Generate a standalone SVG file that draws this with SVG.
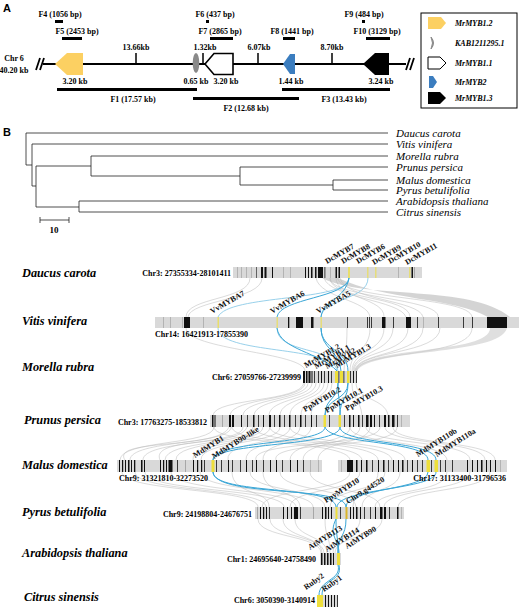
<svg xmlns="http://www.w3.org/2000/svg" width="520" height="607" viewBox="0 0 520 607">
<style>
.pl{font-family:"Liberation Sans",Arial,sans-serif;font-weight:bold;font-size:11px;fill:#000}
.t{font-family:"Liberation Serif","Times New Roman",serif;font-weight:bold;font-size:8px;fill:#000}
.tm{font-family:"Liberation Serif","Times New Roman",serif;font-weight:bold;font-size:8px;fill:#000;text-anchor:middle}
.li{font-family:"Liberation Serif","Times New Roman",serif;font-weight:bold;font-style:italic;font-size:8px;fill:#000}
.sp{font-family:"Liberation Serif","Times New Roman",serif;font-style:italic;font-size:11px;fill:#000}
.spb{font-family:"Liberation Serif","Times New Roman",serif;font-style:italic;font-weight:bold;font-size:12.3px;fill:#000}
.ch{font-family:"Liberation Serif","Times New Roman",serif;font-weight:bold;font-size:8px;fill:#000}
.gl{font-family:"Liberation Serif","Times New Roman",serif;font-weight:bold;font-size:8px;fill:#111}
.tr{stroke:#222;stroke-width:0.8;fill:none}
.bar{fill:#d9d9d9}
.k{fill:#111}
.y{fill:#eedf3c}
.g{fill:#9a9a9a}
.gc{fill:none;stroke:#b8b8b8;stroke-width:0.6;opacity:0.85}
.bc{fill:none;stroke:#3aa6d6;stroke-width:1}
.lb{fill:none;stroke:#8ccbe8;stroke-width:0.9}
.frag{fill:#000}
</style>

<!-- Panel A -->
<g id="panelA">
<text class="pl" x="3" y="12">A</text>
<g id="fragments">
<text class="tm" x="60" y="17">F4 (1056 bp)</text>
<rect class="frag" x="55" y="20" width="8" height="3"/>
<text class="tm" x="77" y="34">F5 (2453 bp)</text>
<rect class="frag" x="62" y="37" width="20" height="3"/>
<text class="tm" x="215" y="17">F6  (437 bp)</text>
<rect class="frag" x="206" y="20" width="3" height="3"/>
<text class="tm" x="220" y="34">F7 (2865 bp)</text>
<rect class="frag" x="210" y="37" width="23" height="3"/>
<text class="tm" x="292" y="34">F8 (1441 bp)</text>
<rect class="frag" x="283" y="37" width="12" height="3"/>
<text class="tm" x="364" y="17">F9 (484 bp)</text>
<rect class="frag" x="362" y="20" width="3" height="3"/>
<text class="tm" x="377" y="34">F10 (3129 bp)</text>
<rect class="frag" x="366" y="37" width="24" height="3"/>
</g>
<g id="chromosome6">
<text class="tm" x="14" y="61">Chr 6</text>
<text class="tm" x="14" y="73">40.20 kb</text>
<line x1="43" y1="64" x2="406" y2="64" stroke="#000" stroke-width="2"/>
<path d="M36 70 L40 58 M40 70 L44 58" stroke="#000" stroke-width="1.8"/>
<path d="M406 70 L410 58 M410 70 L414 58" stroke="#000" stroke-width="1.8"/>
<g stroke="#000" stroke-width="1.5">
<line x1="136" y1="53" x2="136" y2="64"/>
<line x1="203" y1="53" x2="203" y2="64"/>
<line x1="258" y1="53" x2="258" y2="64"/>
<line x1="332" y1="53" x2="332" y2="64"/>
</g>
<text class="tm" x="136" y="50">13.66kb</text>
<text class="tm" x="205" y="50">1.32kb</text>
<text class="tm" x="259" y="50">6.07kb</text>
<text class="tm" x="332" y="50">8.70kb</text>
</g>
<g id="gene-MrMYB1.2"><polygon points="55,64 67,53 83,53 83,75 67,75" fill="#fcd062"/></g>
<g id="gene-KAB1211295.1"><ellipse cx="196" cy="63" rx="3.3" ry="10" fill="#8a8a8a"/></g>
<g id="gene-MrMYB1.1"><polygon points="205,64 214,53.5 233,53.5 233,74.5 214,74.5" fill="#fff" stroke="#000" stroke-width="1.6"/></g>
<g id="gene-MrMYB2"><polygon points="283,64 290,54 295,54 295,74 290,74" fill="#3b7dbf"/></g>
<g id="gene-MrMYB1.3"><polygon points="363,64 375,53 389,53 389,75 375,75" fill="#000"/></g>
<g id="sizes">
<text class="tm" x="75" y="84">3.20 kb</text>
<text class="tm" x="196" y="84">0.65 kb</text>
<text class="tm" x="226" y="84">3.20 kb</text>
<text class="tm" x="291" y="84">1.44 kb</text>
<text class="tm" x="381" y="84">3.24 kb</text>
</g>
<g id="bigFragments">
<rect class="frag" x="57" y="88" width="140" height="3"/>
<text class="tm" x="133" y="102">F1 (17.57 kb)</text>
<rect class="frag" x="193" y="97" width="106" height="3"/>
<text class="tm" x="246" y="111">F2 (12.68 kb)</text>
<rect class="frag" x="282" y="88" width="108" height="3"/>
<text class="tm" x="344" y="102">F3 (13.43 kb)</text>
</g>
<g id="legend">
<rect x="421" y="13" width="96" height="95" fill="#fff" stroke="#000" stroke-width="1"/>
<polygon points="428,17 441,17 446,23 441,29 428,29" fill="#fcd062"/>
<text class="li" x="455" y="26">MrMYB1.2</text>
<path d="M431 37 Q436 43 431 49 Q434 43 431 37 Z" fill="#888" stroke="#888" stroke-width="1"/>
<text class="li" x="455" y="46">KAB1211295.1</text>
<polygon points="428,57 440,57 446,63 440,69 428,69" fill="#fff" stroke="#000" stroke-width="1"/>
<text class="li" x="455" y="66">MrMYB1.1</text>
<polygon points="429,76 433,76 437,82 433,88 429,88" fill="#3b7dbf"/>
<text class="li" x="455" y="85">MrMYB2</text>
<polygon points="428,92 440,92 446,98 440,104 428,104" fill="#000"/>
<text class="li" x="455" y="101">MrMYB1.3</text>
</g>
</g>

<!-- Panel B tree -->
<g id="tree">
<text class="pl" x="3" y="136">B</text>
<path class="tr" d="M26 133 V165 M26 133 H388 M26 165 H32 M32 144 V186 M32 144 H388 M32 186 H36 M36 166 V207 M36 166 H91 M36 207 H79 M91 156 V176 M91 156 H388 M91 176 H240 M240 167 V185 M240 167 H388 M240 185 H333 M333 180 V190 M333 180 H388 M333 190 H388 M79 201 V212 M79 201 H388 M79 212 H388"/>
<text class="sp" x="396" y="137">Daucus carota</text>
<text class="sp" x="396" y="148">Vitis vinifera</text>
<text class="sp" x="396" y="159.5">Morella rubra</text>
<text class="sp" x="396" y="171">Prunus persica</text>
<text class="sp" x="396" y="183.5">Malus domestica</text>
<text class="sp" x="396" y="194">Pyrus betulifolia</text>
<text class="sp" x="396" y="205">Arabidopsis thaliana</text>
<text class="sp" x="396" y="216">Citrus sinensis</text>
<path class="tr" d="M40 220 H69 M40 217 V223 M69 217 V223"/>
<text class="tm" x="54" y="233" style="font-size:9px">10</text>
</g>

<!-- Connectors -->
<g id="connectors">
<path d="M322 278 C365 300 470 284 510 317 L488 317 C455 298 385 300 338 278 Z" fill="#c9c9c9" opacity="0.8"/>
<path class="gc" d="M250 278 C250 300 186 297 186 317 M262 278 C262 300 190 300 188 317 M330 278 C330 300 410 296 410 317 M336 278 C336 298 385 298 384 317 M338 278 C338 300 470 296 472 317 M330 278 C330 298 440 298 438 317 M324 278 C330 298 400 300 406 317 M340 278 C345 300 420 300 423 317 M316 278 C320 298 368 300 370 317"/>
<path class="gc" d="M347 328 C347 350 345 350 344 371 M370 328 C370 352 350 350 350 371 M384 328 C384 352 352 350 352 371 M408 328 C408 355 354 350 354 371 M440 328 C440 355 356 350 356 371 M472 328 C472 358 357 350 357 371 M186 328 C186 350 305 352 305 371 M393 328 C393 352 353 352 353 371 M423 328 C423 355 355 352 355 371"/>
<path d="M490 328 C490 355 365 345 354 371 L357 371 C370 348 500 356 507 328 Z" fill="#c9c9c9" opacity="0.6"/>
<path class="gc" d="M305 383 C305 400 232 398 230 415 M308 383 C308 400 245 398 243 415 M312 383 C312 400 256 398 254 415 M316 383 C316 400 270 398 269 415 M320 383 C320 400 281 398 280 415 M324 383 C324 400 290 398 290 415 M328 383 C328 400 301 398 301 415 M332 383 C332 400 311 398 311 415 M352 383 C352 400 360 398 362 415 M356 383 C356 400 385 398 388 415 M304 383 C300 402 216 398 213 415"/>
<path class="gc" d="M214 427 C214 445 120 440 120 460 M231 427 C231 445 130 440 130 460 M243 427 C243 445 143 440 143 460 M253 427 C253 445 165 440 165 460 M263 427 C263 445 175 440 176 460 M270 427 C270 445 190 440 193 460 M280 427 C280 445 200 440 201 460 M290 427 C290 445 225 440 228 460 M300 427 C300 445 245 440 246 460 M311 427 C311 445 262 440 263 460 M350 427 C350 445 290 440 290 460 M360 427 C360 445 303 440 303 460 M370 427 C370 445 318 440 318 460 M214 427 C214 445 348 440 350 460 M232 427 C232 445 360 440 362 460 M254 427 C254 445 378 440 378 460 M270 427 C270 445 390 440 392 460 M290 427 C290 445 405 440 405 460 M350 427 C350 445 445 440 447 460 M366 427 C366 445 470 440 470 460 M385 427 C385 445 485 440 485 460 M393 427 C393 445 495 440 495 460 M229 427 C220 450 110 438 125 460 M247 427 C240 448 150 436 160 460 M380 427 C380 448 250 440 256 460 M397 427 C397 450 270 440 276 460"/>
<path class="gc" d="M122 472 C122 492 258 488 258 507 M135 472 C135 492 266 488 266 507 M145 472 C145 492 284 488 284 507 M171 472 C171 492 296 488 296 507 M200 472 C200 492 313 488 313 507 M250 472 C250 492 325 488 325 507 M280 472 C280 492 356 488 356 507 M310 472 C310 492 380 488 380 507 M350 472 C350 492 262 488 262 507 M360 472 C360 492 290 488 290 507 M385 472 C385 492 330 488 330 507 M400 472 C400 492 362 488 362 507 M470 472 C470 492 384 488 384 507 M490 472 C490 492 398 488 398 507 M232 472 C232 495 270 490 269 507 M263 472 C263 495 300 490 300 507 M378 472 C378 492 353 490 353 507 M447 472 C447 495 375 488 375 507"/>
<path class="gc" d="M258 519 C258 538 321 535 321 553 M270 519 C270 538 324 535 324 553 M295 519 C295 538 327 535 327 553 M325 519 C325 538 330 535 330 553 M360 519 C360 538 333 535 333 553 M382 519 C382 538 335 535 335 553 M283 519 C283 538 322 535 322 553"/>
<path class="lb" d="M368 278 C368 300 323 298 321 317 M349 278 C349 302 228 294 218 317"/>
<path class="bc" d="M349 278 C347 298 280 298 277 317 M349 278 C345 300 323 300 321 317"/>
<path class="lb" d="M218 328 C218 355 335 345 337 371 M277 328 C277 355 336 345 338 371"/>
<path class="bc" d="M321 328 C321 350 340 350 341 371 M321 328 C321 350 348 350 348 371 M277 328 C280 350 320 352 337 371"/>
<path class="bc" d="M338 383 C338 400 325 398 325 415 M348 383 C348 400 326 398 325 415 M338 383 C338 400 340 398 340 415 M348 383 C348 400 340 398 340 415"/>
<path class="bc" d="M325 427 C325 445 213 440 213 460 M340 427 C340 447 215 442 213 460 M325 427 C330 445 428 440 428 460 M340 427 C340 445 436 440 436 460"/>
<path class="bc" d="M213 472 C213 495 336 485 336 507 M213 472 C215 498 346 485 346 507 M428 472 C428 490 346 488 346 507 M436 472 C436 490 338 488 337 507"/>
<path class="bc" d="M336 519 C336 537 338 535 338 553 M346 519 C346 537 338 535 338 553 M336 519 C328 535 339 540 339 553"/>
<path class="bc" d="M338 565 C342 580 319 580 319 595 M339 565 C343 582 322 578 322 595"/>
</g>

<!-- Species rows -->
<g id="daucus">
<text class="spb" x="22" y="277">Daucus carota</text>
<text class="ch" x="231" y="276" text-anchor="end">Chr3: 27355334-28101411</text>
<rect class="bar" x="233" y="267" width="189" height="11"/>
<g transform="translate(0,267)">
<rect class="g" x="237" width="0.6" height="11"/><rect class="g" x="241" width="0.6" height="11"/><rect class="g" x="246" width="0.6" height="11"/><rect class="g" x="251" width="0.6" height="11"/><rect class="k" x="256" width="0.6" height="11"/>
<rect class="k" x="261" width="2" height="11"/><rect class="k" x="264.5" width="2" height="11"/><rect class="k" x="272" width="1" height="11"/><rect class="g" x="283" width="0.6" height="11"/><rect class="g" x="290" width="0.6" height="11"/>
<rect class="k" x="305" width="1" height="11"/><rect class="k" x="308" width="1" height="11"/><rect class="k" x="311" width="1.5" height="11"/><rect class="k" x="315" width="1.5" height="11"/><rect class="k" x="318" width="5" height="11"/><rect class="k" x="324.5" width="0.8" height="11"/><rect class="g" x="330" width="0.6" height="11"/><rect class="k" x="335.5" width="1.5" height="11"/><rect class="k" x="338.5" width="1.5" height="11"/>
<rect class="y" x="348" width="2" height="11" opacity="0.7"/><rect class="y" x="367" width="1.5" height="11" opacity="0.6"/><rect class="y" x="375" width="1.5" height="11" opacity="0.6"/><rect class="g" x="398" width="0.6" height="11"/><rect class="y" x="409" width="1.5" height="11" opacity="0.6"/><rect class="k" x="411.5" width="1.5" height="11"/><rect class="g" x="414" width="0.8" height="11"/>
</g>
<text class="gl" transform="translate(327,264) rotate(-30)">DcMYB7</text>
<text class="gl" transform="translate(343,264) rotate(-30)">DcMYB8</text>
<text class="gl" transform="translate(358,264) rotate(-30)">DcMYB6</text>
<text class="gl" transform="translate(374,265) rotate(-30)">DcMYB9</text>
<text class="gl" transform="translate(390,264) rotate(-30)">DcMYB10</text>
<text class="gl" transform="translate(407,265) rotate(-30)">DcMYB11</text>
</g>

<g id="vitis">
<text class="spb" x="22" y="325">Vitis vinifera</text>
<rect class="bar" x="155" y="317" width="364" height="11"/>
<g transform="translate(0,317)">
<rect class="g" x="163" width="0.6" height="11"/><rect class="g" x="170" width="0.6" height="11"/><rect class="g" x="182" width="0.6" height="11"/><rect class="k" x="184" width="6" height="11"/><rect class="g" x="203" width="0.6" height="11"/>
<rect class="y" x="217.5" width="1.5" height="11" opacity="0.7"/><rect class="y" x="276.5" width="1.5" height="11" opacity="0.6"/><rect class="k" x="288" width="1.3" height="11"/><rect class="k" x="296" width="7" height="11"/><rect class="k" x="311" width="2.5" height="11"/><rect class="y" x="320.5" width="1.5" height="11" opacity="0.6"/>
<rect class="k" x="347" width="0.8" height="11"/><rect class="k" x="367" width="0.8" height="11"/><rect class="k" x="369" width="0.8" height="11"/><rect class="k" x="371" width="0.8" height="11"/><rect class="k" x="382" width="3.5" height="11"/><rect class="k" x="393" width="0.8" height="11"/><rect class="k" x="406" width="5" height="11"/><rect class="k" x="417" width="0.8" height="11"/><rect class="g" x="423" width="0.6" height="11"/><rect class="k" x="438" width="0.8" height="11"/><rect class="k" x="463" width="0.8" height="11"/><rect class="k" x="472" width="0.8" height="11"/><rect class="k" x="487" width="20" height="11"/>
</g>
<text class="ch" x="155" y="337">Chr14: 16421913-17855390</text>
<text class="gl" transform="translate(212,314) rotate(-30)">VvMYBA7</text>
<text class="gl" transform="translate(272,314) rotate(-30)">VvMYBA6</text>
<text class="gl" transform="translate(318,314) rotate(-30)">VvMYBA5</text>
</g>

<g id="morella">
<text class="spb" x="22" y="371">Morella rubra</text>
<text class="ch" x="301" y="380" text-anchor="end">Chr6: 27059766-27239999</text>
<rect class="bar" x="303" y="371" width="54" height="12"/>
<g transform="translate(0,371)">
<rect class="k" x="303" width="2" height="12"/><rect class="k" x="306" width="1.5" height="12"/><rect class="k" x="308.5" width="2" height="12"/><rect class="k" x="311.5" width="1" height="12"/><rect class="k" x="314" width="0.8" height="12"/><rect class="k" x="318" width="0.8" height="12"/><rect class="k" x="321" width="1" height="12"/><rect class="k" x="324" width="0.8" height="12"/><rect class="k" x="328" width="1" height="12"/><rect class="k" x="331" width="0.8" height="12"/>
<rect class="y" x="335" width="3" height="12"/><rect class="k" x="338.5" width="0.8" height="12"/><rect class="y" x="340" width="3" height="12"/><rect class="k" x="343.5" width="0.8" height="12"/><rect class="y" x="347" width="2.5" height="12"/><rect class="k" x="350" width="0.8" height="12"/><rect class="k" x="353" width="1" height="12"/><rect class="k" x="356" width="0.8" height="12"/>
</g>
<text class="gl" transform="translate(306,368) rotate(-30)">MrMYB1.2</text>
<text class="gl" transform="translate(316,369) rotate(-30)">MrMYB1.1</text>
<text class="gl" transform="translate(327,369) rotate(-30)">MrMYB2</text>
<text class="gl" transform="translate(337,368) rotate(-30)">MrMYB1.3</text>
</g>

<g id="prunus">
<text class="spb" x="24" y="424">Prunus persica</text>
<text class="ch" x="207" y="425" text-anchor="end">Chr3: 17763275-18533812</text>
<rect class="bar" x="210" y="415" width="200" height="12"/>
<g transform="translate(0,415)">
<rect class="k" x="212" width="1.5" height="12"/><rect class="k" x="214.5" width="1" height="12"/><rect class="g" x="222" width="0.8" height="12"/><rect class="k" x="229" width="2" height="12"/><rect class="k" x="232" width="2" height="12"/><rect class="k" x="241" width="1" height="12"/><rect class="k" x="247" width="0.8" height="12"/><rect class="k" x="253" width="1.5" height="12"/><rect class="k" x="258" width="0.8" height="12"/><rect class="k" x="263" width="1" height="12"/><rect class="k" x="269" width="2" height="12"/><rect class="k" x="274" width="0.8" height="12"/><rect class="k" x="279" width="1.5" height="12"/><rect class="k" x="284" width="0.8" height="12"/><rect class="k" x="289" width="1.5" height="12"/><rect class="k" x="295" width="0.8" height="12"/><rect class="k" x="300" width="1.5" height="12"/><rect class="k" x="305" width="0.8" height="12"/><rect class="k" x="311" width="1" height="12"/><rect class="k" x="316" width="0.8" height="12"/>
<rect class="y" x="323.5" width="2.5" height="12"/><rect class="k" x="329" width="0.8" height="12"/><rect class="y" x="338.5" width="2.5" height="12"/><rect class="k" x="344" width="0.8" height="12"/><rect class="k" x="349" width="1.5" height="12"/><rect class="k" x="353" width="1" height="12"/><rect class="k" x="358" width="1.5" height="12"/><rect class="k" x="362" width="0.8" height="12"/><rect class="k" x="366" width="2.5" height="12"/><rect class="k" x="370" width="2" height="12"/><rect class="k" x="374" width="1" height="12"/><rect class="k" x="379" width="0.8" height="12"/><rect class="k" x="384" width="2" height="12"/><rect class="k" x="388" width="1.5" height="12"/><rect class="k" x="392" width="2.5" height="12"/><rect class="k" x="397" width="0.8" height="12"/><rect class="g" x="401" width="0.6" height="12"/>
</g>
<text class="gl" transform="translate(305,412) rotate(-30)">PpMYB10.2</text>
<text class="gl" transform="translate(327,413) rotate(-30)">PpMYB10.1</text>
<text class="gl" transform="translate(347,411) rotate(-30)">PpMYB10.3</text>
</g>

<g id="malus">
<text class="spb" x="22" y="469">Malus domestica</text>
<rect class="bar" x="117" y="460" width="205" height="12"/>
<rect class="bar" x="338" y="460" width="169" height="12"/>
<g transform="translate(0,460)">
<rect class="k" x="119" width="1" height="12"/><rect class="k" x="122" width="1.2" height="12"/><rect class="k" x="125" width="1" height="12"/><rect class="k" x="128" width="1.5" height="12"/><rect class="k" x="131" width="1" height="12"/><rect class="k" x="134" width="1.3" height="12"/><rect class="k" x="141" width="1.5" height="12"/><rect class="k" x="144" width="1" height="12"/><rect class="k" x="160" width="1" height="12"/><rect class="k" x="163" width="1.2" height="12"/><rect class="k" x="166" width="1" height="12"/><rect class="k" x="168.5" width="4" height="12"/><rect class="k" x="177" width="0.8" height="12"/><rect class="g" x="185" width="0.8" height="12"/><rect class="k" x="193" width="1" height="12"/><rect class="k" x="197" width="1.2" height="12"/><rect class="k" x="201" width="1.2" height="12"/><rect class="k" x="204" width="0.8" height="12"/>
<rect class="y" x="211.5" width="3" height="12"/><rect class="k" x="216" width="0.8" height="12"/><rect class="k" x="221" width="0.8" height="12"/><rect class="k" x="228" width="1" height="12"/><rect class="k" x="232" width="0.8" height="12"/><rect class="k" x="240" width="0.8" height="12"/><rect class="k" x="246" width="1" height="12"/><rect class="k" x="252" width="0.8" height="12"/><rect class="k" x="256" width="1" height="12"/><rect class="k" x="263" width="0.8" height="12"/><rect class="k" x="270" width="1" height="12"/><rect class="k" x="276" width="1" height="12"/><rect class="k" x="282" width="0.8" height="12"/><rect class="k" x="290" width="1" height="12"/><rect class="k" x="297" width="1" height="12"/><rect class="k" x="303" width="0.8" height="12"/><rect class="g" x="310" width="0.6" height="12"/><rect class="g" x="318" width="0.6" height="12"/>
<rect class="g" x="341" width="0.6" height="12"/><rect class="k" x="347" width="6" height="12"/><rect class="k" x="356" width="1.5" height="12"/><rect class="k" x="361" width="1" height="12"/><rect class="k" x="366" width="1.5" height="12"/><rect class="k" x="372" width="0.8" height="12"/><rect class="k" x="378" width="1" height="12"/><rect class="k" x="383" width="1.5" height="12"/><rect class="k" x="388" width="0.8" height="12"/><rect class="k" x="393" width="1" height="12"/><rect class="k" x="398" width="1" height="12"/><rect class="k" x="402" width="1.5" height="12"/><rect class="k" x="407" width="0.8" height="12"/><rect class="k" x="412" width="1" height="12"/><rect class="k" x="417" width="0.8" height="12"/><rect class="k" x="422" width="0.8" height="12"/>
<rect class="y" x="426.5" width="3.5" height="12"/><rect class="k" x="431" width="0.8" height="12"/><rect class="y" x="434.5" width="3.5" height="12"/><rect class="k" x="440" width="0.8" height="12"/><rect class="k" x="445" width="0.8" height="12"/><rect class="k" x="452" width="0.8" height="12"/><rect class="k" x="467" width="1" height="12"/><rect class="k" x="472" width="1" height="12"/><rect class="k" x="477" width="1" height="12"/><rect class="k" x="481" width="1.5" height="12"/><rect class="k" x="486" width="1" height="12"/><rect class="k" x="490" width="1" height="12"/><rect class="k" x="495" width="1" height="12"/><rect class="g" x="500" width="0.6" height="12"/>
</g>
<text class="ch" x="119" y="481">Chr9: 31321810-32273520</text>
<text class="ch" x="506" y="481" text-anchor="end">Chr17: 31133400-31796536</text>
<text class="gl" transform="translate(195,458) rotate(-32)">MdMYB1</text>
<text class="gl" transform="translate(214,459) rotate(-32)">MdMYB90-like</text>
<text class="gl" transform="translate(418,457) rotate(-32)">MdMYB110b</text>
<text class="gl" transform="translate(437,457) rotate(-32)">MdMYB110a</text>
</g>

<g id="pyrus">
<text class="spb" x="22" y="516">Pyrus betulifolia</text>
<text class="ch" x="252" y="517" text-anchor="end">Chr9: 24198804-24676751</text>
<rect class="bar" x="255" y="507" width="149" height="12"/>
<g transform="translate(0,507)">
<rect class="g" x="257" width="0.8" height="12"/><rect class="k" x="260" width="1" height="12"/><rect class="k" x="263" width="1.2" height="12"/><rect class="k" x="266" width="1" height="12"/><rect class="k" x="269" width="0.8" height="12"/><rect class="k" x="283" width="1" height="12"/><rect class="k" x="287" width="1" height="12"/><rect class="k" x="291" width="1" height="12"/><rect class="k" x="294" width="4" height="12"/><rect class="k" x="300" width="0.8" height="12"/><rect class="g" x="313" width="0.8" height="12"/><rect class="k" x="322" width="1" height="12"/><rect class="k" x="325" width="1.5" height="12"/><rect class="k" x="328" width="1" height="12"/><rect class="k" x="331" width="1" height="12"/>
<rect class="y" x="335.5" width="2" height="12"/><rect class="k" x="340" width="0.8" height="12"/><rect x="345.5" width="2" height="12" fill="#d9b52c"/><rect class="k" x="350" width="1" height="12"/><rect class="k" x="353" width="1" height="12"/><rect class="k" x="356" width="1.5" height="12"/><rect class="k" x="360" width="1" height="12"/><rect class="k" x="364" width="0.8" height="12"/><rect class="k" x="370" width="0.8" height="12"/><rect class="k" x="375" width="1" height="12"/><rect class="k" x="380" width="2.5" height="12"/><rect class="k" x="384" width="2" height="12"/><rect class="k" x="389" width="0.8" height="12"/><rect class="k" x="397" width="1.5" height="12"/><rect class="g" x="401" width="0.6" height="12"/>
</g>
<text class="gl" transform="translate(326,503) rotate(-32)">PpyMYB10</text>
<text class="gl" transform="translate(348,504) rotate(-32)">Chr9.g44520</text>
</g>

<g id="arabidopsis">
<text class="spb" x="22" y="557">Arabidopsis thaliana</text>
<text class="ch" x="316" y="562" text-anchor="end">Chr1: 24695640-24758490</text>
<rect class="bar" x="320" y="553" width="21" height="12"/>
<g transform="translate(0,553)">
<rect class="k" x="321" width="1.5" height="12"/><rect class="k" x="324" width="1.5" height="12"/><rect class="k" x="327" width="1.5" height="12"/><rect class="k" x="330" width="1.5" height="12"/><rect class="k" x="333" width="1" height="12"/><rect class="y" x="337" width="3" height="12"/>
</g>
<text class="gl" transform="translate(310,550) rotate(-32)">AtMYB113</text>
<text class="gl" transform="translate(327,552) rotate(-32)">AtMYB114</text>
<text class="gl" transform="translate(347,549) rotate(-32)">AtMYB90</text>
</g>

<g id="citrus">
<text class="spb" x="24" y="601">Citrus sinensis</text>
<text class="ch" x="315" y="603" text-anchor="end">Chr6: 3050390-3140914</text>
<rect class="bar" x="317" y="595" width="21" height="12"/>
<g transform="translate(0,595)">
<rect class="y" x="317" width="6" height="12"/><rect class="k" x="325" width="1" height="12"/><rect class="k" x="328" width="1" height="12"/><rect class="k" x="331" width="1" height="12"/><rect class="k" x="334" width="1" height="12"/><rect class="k" x="337" width="0.8" height="12"/>
</g>
<text class="gl" transform="translate(306,590) rotate(-35)">Ruby2</text>
<text class="gl" transform="translate(324,592) rotate(-35)">Ruby1</text>
</g>
</svg>
